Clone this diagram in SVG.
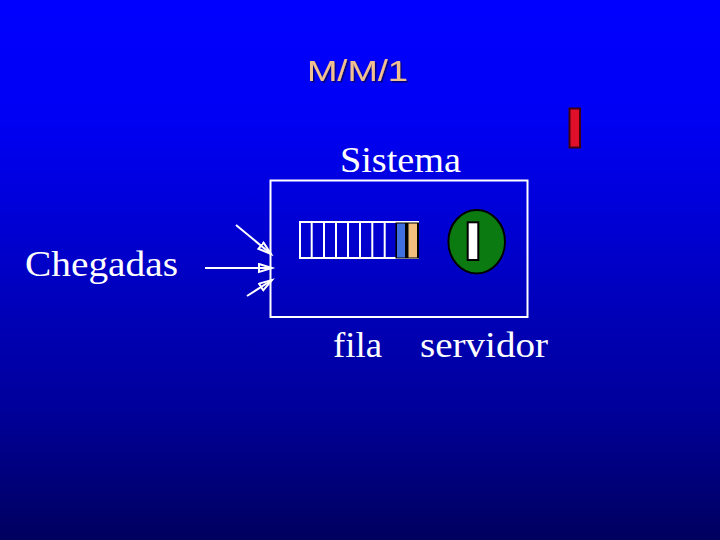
<svg xmlns="http://www.w3.org/2000/svg" width="720" height="540" viewBox="0 0 720 540">
  <defs>
    <linearGradient id="bg" x1="0" y1="0" x2="0" y2="1">
      <stop offset="0" stop-color="#0000ff"/>
      <stop offset="0.22" stop-color="#0000f4"/>
      <stop offset="0.76" stop-color="#00009a"/>
      <stop offset="1" stop-color="#00005e"/>
    </linearGradient>
    <filter id="shadow" x="-10%" y="-20%" width="130%" height="150%">
      <feDropShadow dx="1.5" dy="1.5" stdDeviation="0.5" flood-color="#000070" flood-opacity="0.9"/>
    </filter>
    <marker id="head" markerUnits="userSpaceOnUse" markerWidth="18" markerHeight="12" refX="14" refY="5" orient="auto" viewBox="0 0 18 12">
      <path d="M1,1 L14,5 L1,9 Z" fill="none" stroke="#ffffff" stroke-width="2" stroke-linejoin="miter"/>
    </marker>
    <style>
      .serif { font-family: "Liberation Serif", "Times New Roman", serif; font-size: 35px; fill: #ffffff; }
      .title { font-family: "Liberation Sans", Arial, sans-serif; font-size: 30px; fill: #f0c090; }
      .wline { stroke: #ffffff; stroke-width: 2; fill: none; }
    </style>
  </defs>
  <rect x="0" y="0" width="720" height="540" fill="url(#bg)"/>

  <g id="title">
    <text class="title" x="307" y="81" textLength="101" lengthAdjust="spacingAndGlyphs" filter="url(#shadow)">M/M/1</text>
  </g>

  <g id="red-customer">
    <rect x="569.5" y="108.5" width="10.5" height="39" fill="#e0102a" stroke="#400010" stroke-width="2"/>
  </g>

  <g id="sistema">
    <text class="serif" x="340" y="172" textLength="121" lengthAdjust="spacingAndGlyphs">Sistema</text>
    <rect x="270.5" y="180.5" width="257" height="136.5" class="wline"/>
  </g>

  <g id="fila">
    <rect x="300" y="222" width="118" height="36" class="wline"/>
    <path class="wline" d="M311.7,222 V258 M324,222 V258 M336,222 V258 M348,222 V258 M360,222 V258 M372.3,222 V258 M384.7,222 V258"/>
    <rect x="395.5" y="222.5" width="23.5" height="36" fill="#000000"/>
    <rect x="397" y="223.5" width="8" height="34" fill="#3f6fe0"/>
    <rect x="408.5" y="223.5" width="8.5" height="34" fill="#f2c07c"/>
    <text class="serif" x="333" y="357" textLength="49" lengthAdjust="spacingAndGlyphs">fila</text>
  </g>

  <g id="servidor">
    <ellipse cx="476.7" cy="241.7" rx="28.3" ry="31.7" fill="#0b7a10" stroke="#000000" stroke-width="2"/>
    <rect x="467.7" y="222.3" width="10.6" height="37.7" fill="#ffffff" stroke="#000000" stroke-width="2"/>
    <text class="serif" x="420" y="357" textLength="128" lengthAdjust="spacingAndGlyphs">servidor</text>
  </g>

  <g id="chegadas">
    <text class="serif" x="25" y="276" textLength="153" lengthAdjust="spacingAndGlyphs">Chegadas</text>
  </g>

  <g id="connectors">
    <line class="wline" x1="236" y1="225" x2="271" y2="254" marker-end="url(#head)"/>
    <line class="wline" x1="205" y1="268" x2="272" y2="268" marker-end="url(#head)"/>
    <line class="wline" x1="247" y1="296" x2="272" y2="280" marker-end="url(#head)"/>
  </g>
</svg>
